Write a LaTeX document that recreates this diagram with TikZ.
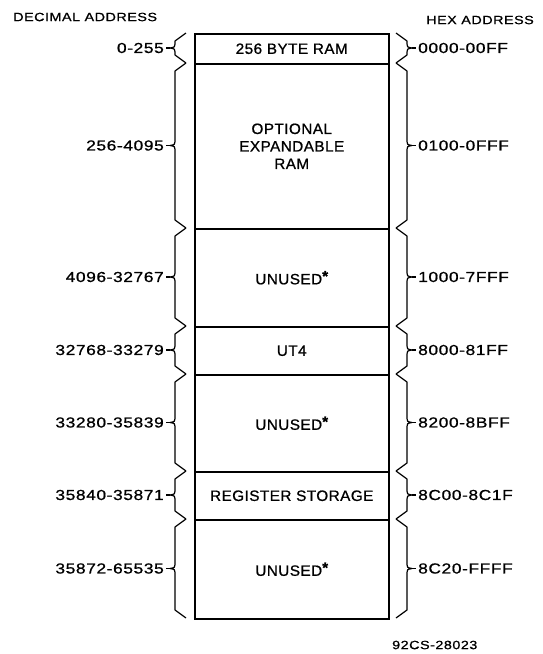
\documentclass[tikz,border=0pt]{standalone}
\usepackage{fontspec}
\setmainfont{Liberation Sans}[FakeStretch=1.02,LetterSpace=3,FakeBold=0.8]
\newfontfamily\addrfont{Liberation Sans}[FakeStretch=1.2,LetterSpace=4,FakeBold=0.8]
\begin{document}
\begin{tikzpicture}[x=1pt, y=-1pt,
        every node/.style={font=\fontsize{15}{17.5}\selectfont, inner sep=0pt},
        head/.style={font=\fontsize{12}{14}\addrfont},
        block/.style={draw, line width=1.5pt, minimum width=194pt, anchor=north west, align=center},
        declabel/.style={anchor=east, inner xsep=2pt, font=\fontsize{14.5}{15}\addrfont},
        hexlabel/.style={anchor=west, inner xsep=2pt, font=\fontsize{14.5}{15}\addrfont},
        brace/.style={line width=1.2pt, line join=round}
    ]
        \useasboundingbox[fill=white] (0,0) rectangle (542,654);
        \node[head, anchor=west] (dechead) at (13,17) {DECIMAL ADDRESS};
        \node[head, anchor=east] (hexhead) at (534,20) {HEX ADDRESS};
        % memory blocks
        \node[block, minimum height=30pt]  (ram)    at (194,33)  {256 BYTE RAM};
        \node[block, minimum height=165pt] (optram) at (194,63)  {OPTIONAL\\EXPANDABLE\\RAM};
        \node[block, minimum height=98pt]  (free1)  at (194,228) {UNUSED\raisebox{3pt}{\bfseries *}};
        \node[block, minimum height=48pt]  (utfour) at (194,326) {UT4};
        \node[block, minimum height=97pt]  (free2)  at (194,374) {UNUSED\raisebox{3pt}{\bfseries *}};
        \node[block, minimum height=48pt]  (regs)   at (194,471) {REGISTER STORAGE};
        \node[block, minimum height=99pt]  (free3)  at (194,519) {UNUSED\raisebox{3pt}{\bfseries *}};
        % braces and addresses
        \foreach \ya/\yb/\dec/\hex/\n in {33/63/0-255/0000-00FF/1, 63/228/256-4095/0100-0FFF/2,
                228/326/4096-32767/1000-7FFF/3, 326/374/32768-33279/8000-81FF/4,
                374/471/33280-35839/8200-8BFF/5, 471/519/35840-35871/8C00-8C1F/6,
                519/618/35872-65535/8C20-FFFF/7} {
            \pgfmathsetmacro\ym{(\ya+\yb)/2}
            \draw[brace] (186,\ya) -- (175,{\ya+8}) -- (175,{\ym-4})
                .. controls (175,{\ym-1}) .. (170,\ym) coordinate (dt\n)
                .. controls (175,{\ym+1}) .. (175,{\ym+4}) -- (175,{\yb-8}) -- (186,\yb);
            \draw[brace] (396,\ya) -- (407,{\ya+8}) -- (407,{\ym-4})
                .. controls (407,{\ym-1}) .. (412,\ym) coordinate (ht\n)
                .. controls (407,{\ym+1}) .. (407,{\ym+4}) -- (407,{\yb-8}) -- (396,\yb);
            \node[declabel] (dec\n) at (166,\ym) {\dec};
            \node[hexlabel] (hex\n) at (416,\ym) {\hex};
            \draw[brace] (dt\n) -- (dec\n.east);
            \draw[brace] (ht\n) -- (hex\n.west);
        }
        \node[head, anchor=west] (figno) at (392,645) {92CS-28023};
    \end{tikzpicture}
\end{document}
